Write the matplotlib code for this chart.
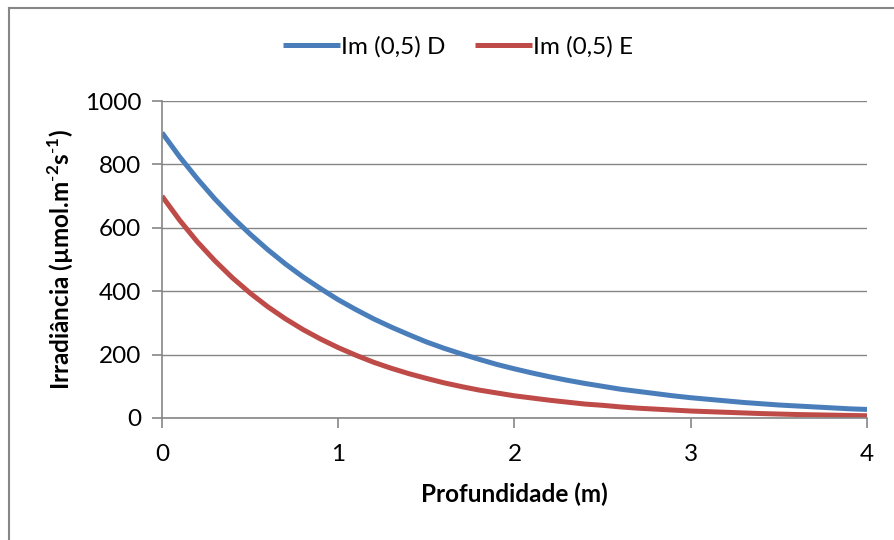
import matplotlib
matplotlib.use("Agg")
import matplotlib.pyplot as plt
from matplotlib.lines import Line2D

plt.rcParams['font.family'] = ['Lato', 'DejaVu Sans']
plt.rcParams['mathtext.fontset'] = 'custom'
plt.rcParams['mathtext.rm'] = 'Lato'
plt.rcParams['mathtext.bf'] = 'Lato:bold'

# depth (m) and irradiance for the two curves
depth = [0.0, 0.1, 0.2, 0.3, 0.4, 0.5, 0.6, 0.7, 0.8, 0.9, 1.0,
         1.1, 1.2, 1.3, 1.4, 1.5, 1.6, 1.7, 1.8, 1.9, 2.0,
         2.1, 2.2, 2.3, 2.4, 2.5, 2.6, 2.7, 2.8, 2.9, 3.0,
         3.1, 3.2, 3.3, 3.4, 3.5, 3.6, 3.7, 3.8, 3.9, 4.0]
im_d = [900, 824, 755, 691, 633, 580, 531, 486, 445, 408, 373,
        342, 313, 287, 263, 240, 220, 202, 185, 169, 155,
        142, 130, 119, 109, 100, 91, 84, 77, 70, 64,
        59, 54, 49, 45, 41, 38, 35, 32, 29, 27]
im_e = [700, 624, 556, 496, 442, 394, 351, 313, 279, 249, 222,
        198, 176, 157, 140, 125, 111, 99, 88, 79, 70,
        63, 56, 50, 44, 40, 35, 31, 28, 25, 22,
        20, 18, 16, 14, 12.5, 11, 10, 9, 8, 7]
labels = ['Im (0,5) D', 'Im (0,5) E']
colors = ['#4a7ebb', '#be4b48']

W, H = 895, 540
fig = plt.figure(figsize=(W / 100, H / 100), dpi=100)
ax = fig.add_axes([162 / W, 1 - 418 / H, (867 - 162) / W, (418 - 101) / H])

ax.plot(depth, im_d, color=colors[0], lw=3.6, label=labels[0], solid_capstyle='butt')
ax.plot(depth, im_e, color=colors[1], lw=3.6, label=labels[1], solid_capstyle='butt')

ax.set_xlim(0, 4)
ax.set_ylim(0, 1000)
ax.set_xticks([0, 1, 2, 3, 4])
ax.set_yticks(range(0, 1001, 200))
ax.grid(axis='y', color='#868686', lw=1)
ax.set_axisbelow(True)

gray = '#868686'
fs = 17.5
for s in ['top', 'right']:
    ax.spines[s].set_visible(False)
for s in ['left', 'bottom']:
    ax.spines[s].set_color(gray)
    ax.spines[s].set_linewidth(1.2)
ax.tick_params(axis='both', colors=gray, labelcolor='black', labelsize=fs,
               length=7, width=1.2, direction='out')
ax.tick_params(axis='x', pad=12)
ax.tick_params(axis='y', pad=8)

ax.set_xlabel('Profundidade (m)', fontsize=fs, fontweight='bold', labelpad=12)
ax.set_ylabel(r'Irradiância (µmol.m$^{\mathbf{\text{-}2}}$s$^{\mathbf{\text{-}1}}$)',
              fontsize=fs, fontweight='bold', labelpad=6)

ax.legend(loc='center', bbox_to_anchor=(458 / W, 1 - 47 / H),
          bbox_transform=fig.transFigure, ncol=2, frameon=False,
          fontsize=fs, handlelength=2.35, handletextpad=0.05, columnspacing=1.2)

# outer chart frame (top and left edges)
fig.add_artist(Line2D([9 / W, 9 / W], [0, 1 - 7.5 / H], color=gray, lw=1.5,
                      transform=fig.transFigure))
fig.add_artist(Line2D([9 / W, 1], [1 - 7.5 / H, 1 - 7.5 / H], color=gray, lw=1.5,
                      transform=fig.transFigure))

fig.savefig('out.png', dpi=100)
